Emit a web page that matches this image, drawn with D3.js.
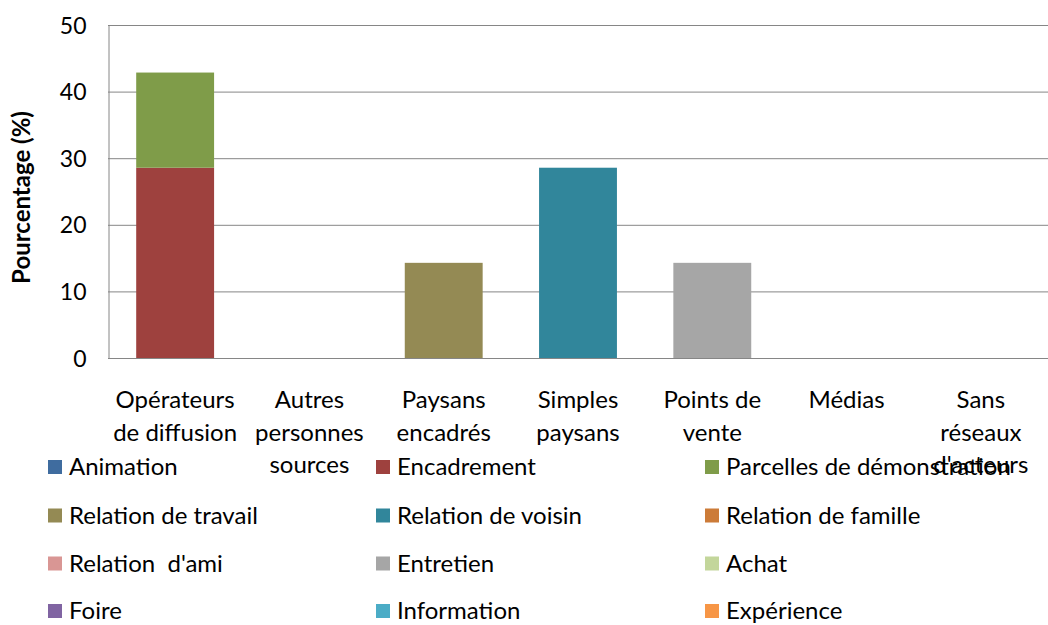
<!DOCTYPE html>
<html><head><meta charset="utf-8">
<script src="https://cdn.jsdelivr.net/npm/d3@7"></script>
<style>
body{margin:0;background:#fff;}
text{font-family:Lato,"Open Sans",sans-serif;fill:#000;}
</style></head>
<body><svg id="c" width="1048" height="625"></svg>
<script>
const categories = ["Opérateurs de diffusion","Autres personnes sources","Paysans encadrés","Simples paysans","Points de vente","Médias","Sans réseaux d'acteurs"];
const categoryLines = [["Opérateurs","de diffusion"],["Autres","personnes","sources"],["Paysans","encadrés"],["Simples","paysans"],["Points de","vente"],["Médias"],["Sans","réseaux","d'acteurs"]];
const seriesNames = ["Animation","Encadrement","Parcelles de démonstration","Relation de travail","Relation de voisin","Relation de famille","Relation  d'ami","Entretien","Achat","Foire","Information","Expérience"];
const seriesColors = ["#3F6C9F","#9E413E","#7F9C49","#948A54","#31869B","#CC7B38","#D99694","#A6A6A6","#C3D69B","#8064A2","#4BACC6","#F79646"];
// values per series, one per category
const animation     = [0,0,0,0,0,0,0];
const encadrement   = [28.57,0,0,0,0,0,0];
const parcelles     = [14.29,0,0,0,0,0,0];
const relTravail    = [0,0,14.29,0,0,0,0];
const relVoisin     = [0,0,0,28.57,0,0,0];
const relFamille    = [0,0,0,0,0,0,0];
const relAmi        = [0,0,0,0,0,0,0];
const entretien     = [0,0,0,0,14.29,0,0];
const achat         = [0,0,0,0,0,0,0];
const foire         = [0,0,0,0,0,0,0];
const information   = [0,0,0,0,0,0,0];
const experience    = [0,0,0,0,0,0,0];
const yTicks = [0,10,20,30,40,50];
const yTitle = "Pourcentage (%)";

const seriesValues = [animation,encadrement,parcelles,relTravail,relVoisin,relFamille,relAmi,entretien,achat,foire,information,experience];
const table = categories.map((c,i)=>{const o={cat:c}; seriesNames.forEach((s,j)=>o[s]=seriesValues[j][i]); return o;});

const svg = d3.select("#c");
const L=108, R=1048, T=25, B=358;
const x = d3.scaleBand().domain(categories).range([L,R]).paddingInner(0.42).paddingOuter(0.21);
const y = d3.scaleLinear().domain([0,50]).range([B,T]);

// gridlines
svg.append("g").selectAll("line").data(yTicks.filter(d=>d>0)).join("line")
  .attr("x1",L).attr("x2",R).attr("y1",d=>y(d)+0.5).attr("y2",d=>y(d)+0.5)
  .attr("stroke","#868686").attr("stroke-width",1);

const stack = d3.stack().keys(seriesNames)(table);
svg.append("g").selectAll("g").data(stack).join("g")
  .attr("fill",(d,i)=>seriesColors[i])
  .selectAll("rect").data(d=>d).join("rect")
  .attr("x",d=>x(d.data.cat)).attr("width",x.bandwidth())
  .attr("y",d=>y(d[1])).attr("height",d=>Math.max(0,y(d[0])-y(d[1])));

// axes
const yAxis = d3.axisLeft(y).tickValues(yTicks).tickSize(0).tickPadding(22);
const ga = svg.append("g").attr("transform",`translate(${L+0.5},0)`).call(yAxis);
ga.select(".domain").attr("stroke","#868686");
ga.selectAll("text").style("font-size","23px").attr("dy","0.35em").attr("font-family",null);
svg.append("line").attr("x1",L).attr("x2",R).attr("y1",B+0.5).attr("y2",B+0.5).attr("stroke","#868686");

// y title
svg.append("text").attr("transform",`translate(30,${(T+B)/2 + 6}) rotate(-90)`)
  .attr("text-anchor","middle").style("font-size","24px").style("font-weight","bold").text(yTitle);

// category labels
const cl = svg.append("g");
categories.forEach((c,i)=>{
  const cx = x(c)+x.bandwidth()/2;
  categoryLines[i].forEach((ln,k)=>{
    cl.append("text").attr("x",cx).attr("y",408+k*32.5).attr("text-anchor","middle")
      .style("font-size","24px").style("white-space","pre").text(ln);
  });
});

// legend
const lg = svg.append("g");
const colX=[48,376,705], rowY=[467,515.5,563.5,611];
seriesNames.forEach((s,i)=>{
  const cx=colX[i%3], cy=rowY[Math.floor(i/3)];
  lg.append("rect").attr("x",cx).attr("y",cy-7).attr("width",14).attr("height",14).attr("fill",seriesColors[i]);
  lg.append("text").attr("x",cx+21).attr("y",cy).attr("dy","0.35em").style("font-size","24px").style("white-space","pre").text(s);
});
</script></body></html>
